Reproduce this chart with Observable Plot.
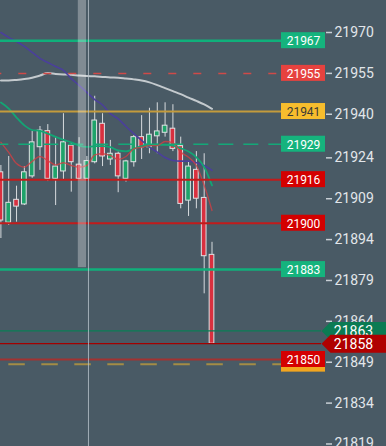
<!DOCTYPE html>
<html><head><meta charset="utf-8">
<script src="https://cdn.jsdelivr.net/npm/d3@7"></script>
<script src="https://cdn.jsdelivr.net/npm/@observablehq/plot@0.6"></script>
<style>html,body{margin:0;padding:0;background:#495a65;overflow:hidden}</style>
</head><body><div id="chart"></div>
<script>
// ---- data ----
const opens  = [21918.7,21900.2,21908.6,21906.9,21917.2,21927.9,21933.8,21916.3,21919.0,21928.5,21921.5,21916.3,21922.4,21936.5,21923.4,21925.5,21916.3,21922.4,21931.6,21927.9,21931.9,21933.2,21934.7,21928.3,21908.3,21919.6,21909.3,21888.4];
const highs  = [21921.2,21924.5,21913.6,21920.8,21933.7,21935.5,21936.2,21931.8,21940.2,21929.2,21931.4,21924.5,21946.6,21940.2,21930.4,21926.1,21923.1,21932.2,21939.5,21942.2,21944.2,21944.2,21943.5,21931.6,21922.7,21926.3,21925.5,21893.0];
const lows   = [21894.4,21899.2,21900.4,21906.5,21916.5,21919.4,21915.3,21906.5,21915.9,21911.4,21916.3,21916.3,21921.8,21920.8,21921.2,21911.2,21915.1,21920.6,21923.4,21925.5,21925.5,21931.6,21926.3,21905.3,21902.5,21905.3,21874.1,21855.8];
const closes = [21901.0,21907.5,21906.1,21918.7,21929.7,21934.0,21916.3,21920.8,21929.7,21922.4,21916.3,21922.8,21937.7,21924.5,21925.5,21917.2,21922.7,21931.6,21927.9,21932.5,21933.7,21935.8,21927.3,21907.1,21920.8,21909.0,21887.9,21855.8];

const maRed    = [21929.7,21926.0,21921.9,21920.6,21922.7,21924.5,21923.0,21921.4,21922.2,21921.2,21920.6,21921.2,21925.1,21925.5,21924.9,21923.4,21924.5,21927.3,21927.9,21928.5,21928.5,21930.0,21929.5,21926.1,21924.2,21921.2,21913.9,21904.7];
const maGreen  = [21944.3,21942.1,21938.8,21935.9,21934.2,21933.9,21932.9,21931.7,21930.6,21929.7,21928.5,21928.0,21928.3,21928.3,21927.9,21926.7,21926.4,21927.3,21928.3,21928.5,21928.8,21928.8,21928.5,21927.5,21926.3,21924.2,21920.6,21913.9];
const maPurple = [21970.0,21968.2,21966.7,21964.9,21962.7,21960.5,21959.0,21957.5,21956.1,21953.1,21950.6,21948.0,21945.4,21943.4,21940.2,21938.3,21935.5,21932.9,21930.4,21927.9,21926.1,21924.1,21923.0,21922.8,21922.8,21922.2,21921.2,21919.4];
const maGray   = [21952.4,21952.4,21952.6,21952.9,21953.4,21954.2,21955.1,21954.8,21954.6,21954.5,21954.2,21954.0,21953.9,21953.7,21953.5,21953.4,21953.1,21952.8,21952.4,21951.7,21950.7,21949.6,21948.5,21947.4,21946.1,21944.9,21943.6,21942.0];

const levelPrices = [21967, 21955, 21941, 21929, 21916, 21900, 21883, 21848.3, 21850];
const levelTexts  = ["21967","21955","21941","21929","21916","21900","21883","","21850"];
const levelKinds  = ["target","sell","alert","targetDash","stop","stop","target","alertDash","stopDark"];

const lastPrices = [21860.5, 21855.8];
const lastTexts  = ["21863", "21858"];
const lastKinds  = ["bid", "last"];

const tickValues = [21970,21955,21940,21924,21909,21894,21879,21864,21849,21834,21819];

const bandBars = [9.9, 10.95];      // highlighted bar span (bar index units)
const bandLow = 21883.7;
const crosshairBar = 11.2;

// ---- layout / style ----
const W = 386, H = 446, MR = 61;
const BG = "#495a65";
const n = opens.length;
const xRange = [0.4, 211.5];
const yTop = 21970 + 32 / 2.725;
const yDomain = [yTop - H / 2.725, yTop];
const xs = d3.scaleLinear().domain([0, n - 1]).range(xRange);
const ys = d3.scaleLinear().domain(yDomain).range([H, 0]);
const yOff = (v, px) => ys.invert(ys(v) + px);

const styles = {
  target:     {line: "#10b07b", w: 2.5, dash: null, off: 0, box: "#15b37d", text: "#ffffff"},
  targetDash: {line: "#14a878", w: 1.6, dash: "15,10", off: 6.7, box: "#15b37d", text: "#ffffff"},
  sell:       {line: "#cf4a48", w: 1.5, dash: "8,17", off: 6.7, box: "#e6423f", text: "#ffffff"},
  alert:      {line: "#c49b3c", w: 2, dash: null, off: 0, box: "#f7bd2d", text: "#3b3a36"},
  alertDash:  {line: "#a48c45", w: 2, dash: "16.5,16.5", off: 24.7, box: "#f2a51f", text: "#ffffff"},
  stop:       {line: "#c21b1b", w: 2, dash: null, off: 0, box: "#d40000", text: "#ffffff"},
  stopDark:   {line: "#a23232", w: 2, dash: null, off: 0, box: "#d40000", text: "#ffffff"}
};
const lastStyles = {
  bid:  {line: "#0b7e56", box: "#0b7b53"},
  last: {line: "#a30000", box: "#b00000"}
};

const candles = opens.map((o, i) => ({i, o, h: highs[i], l: lows[i], c: closes[i]}));
const up = candles.filter(d => d.c >= d.o), down = candles.filter(d => d.c < d.o);
const ma = arr => arr.map((v, i) => ({i, v}));

const boxX1 = xs.invert(281), boxX2 = xs.invert(325), boxXm = xs.invert(303);
const lineX1 = xs.invert(0);

const marks = [];

// candles
marks.push(Plot.ruleX(candles, {x: "i", y1: "l", y2: "h", stroke: "#d7dbde", strokeWidth: 1}));
marks.push(Plot.rect(up, {x1: d => d.i - 0.3, x2: d => d.i + 0.3, y1: "o", y2: "c", fill: "#1ea36a", stroke: "#dfe2e4", strokeWidth: 1}));
marks.push(Plot.rect(down, {x1: d => d.i - 0.3, x2: d => d.i + 0.3, y1: "o", y2: "c", fill: "#d9303f", stroke: "#dfe2e4", strokeWidth: 1}));

// moving averages
marks.push(Plot.line(ma(maGray), {x: "i", y: "v", stroke: "#c4cace", strokeWidth: 2, curve: "monotone-x"}));
marks.push(Plot.line(ma(maPurple), {x: "i", y: "v", stroke: "#4b3f9c", strokeWidth: 1.6, curve: "monotone-x"}));
marks.push(Plot.line(ma(maGreen), {x: "i", y: "v", stroke: "#13a574", strokeWidth: 1.8, curve: "monotone-x"}));
marks.push(Plot.line(ma(maRed), {x: "i", y: "v", stroke: "#cf3e44", strokeOpacity: 0.8, strokeWidth: 1.4, curve: "monotone-x"}));

// level lines
levelPrices.forEach((p, k) => {
  const s = styles[levelKinds[k]];
  marks.push(Plot.ruleY([p], {y: d => d, x1: lineX1, x2: boxX1, stroke: s.line, strokeWidth: s.w,
    strokeDasharray: s.dash || undefined, strokeDashoffset: s.off}));
});
// last price lines
lastPrices.forEach((p, k) => {
  const s = lastStyles[lastKinds[k]];
  marks.push(Plot.ruleY([p], {y: d => d, x1: lineX1, x2: xs.invert(321), stroke: s.line, strokeWidth: 1.2}));
});

// highlight band + crosshair
marks.push(Plot.rect([0], {x1: bandBars[0], x2: bandBars[1], y1: bandLow, y2: yDomain[1], fill: "#ffffff", fillOpacity: 0.3}));
marks.push(Plot.ruleX([crosshairBar], {x: d => d, y1: yDomain[0], y2: yDomain[1], stroke: "#b9c3ca", strokeOpacity: 0.8, strokeWidth: 1}));

// axis (right)
marks.push(Plot.axisY({anchor: "right", ticks: tickValues, tickFormat: d => String(d), tickSize: 6, tickPadding: 3,
  fontSize: 14, fill: "#e2e6ea", stroke: "#c8cfd5", strokeWidth: 1.5, label: null}));

// level labels
levelPrices.forEach((p, k) => {
  const s = styles[levelKinds[k]];
  marks.push(Plot.rect([p], {x1: boxX1, x2: boxX2, y1: d => yOff(d, 8), y2: d => yOff(d, -8), fill: s.box}));
  if (levelTexts[k]) marks.push(Plot.text([p], {x: boxXm, y: d => d, text: () => levelTexts[k], fill: s.text, fontSize: 12, dy: 0.5}));
});

// last-price arrow labels
lastPrices.forEach((p, k) => {
  const s = lastStyles[lastKinds[k]];
  const pts = [
    {x: xs.invert(321), y: p},
    {x: xs.invert(330), y: yOff(p, -9)},
    {x: xs.invert(386), y: yOff(p, -9)},
    {x: xs.invert(386), y: yOff(p, 9)},
    {x: xs.invert(330), y: yOff(p, 9)}
  ];
  marks.push(Plot.line(pts, {x: "x", y: "y", fill: s.box, stroke: "none", curve: "linear-closed"}));
  marks.push(Plot.text([p], {x: xs.invert(353), y: d => d, text: () => lastTexts[k], fill: "#ffffff", fontSize: 14, dy: 0.5}));
});

const chart = Plot.plot({
  width: W, height: H,
  marginLeft: 0, marginRight: MR, marginTop: 0, marginBottom: 0,
  style: {background: BG, color: "#e2e6ea", fontFamily: "Roboto, sans-serif", fontSize: "14px", overflow: "visible"},
  x: {type: "linear", domain: [0, n - 1], range: xRange, axis: null},
  y: {type: "linear", domain: yDomain, range: [H, 0]},
  marks
});
document.getElementById("chart").append(chart);
</script>
</body></html>
